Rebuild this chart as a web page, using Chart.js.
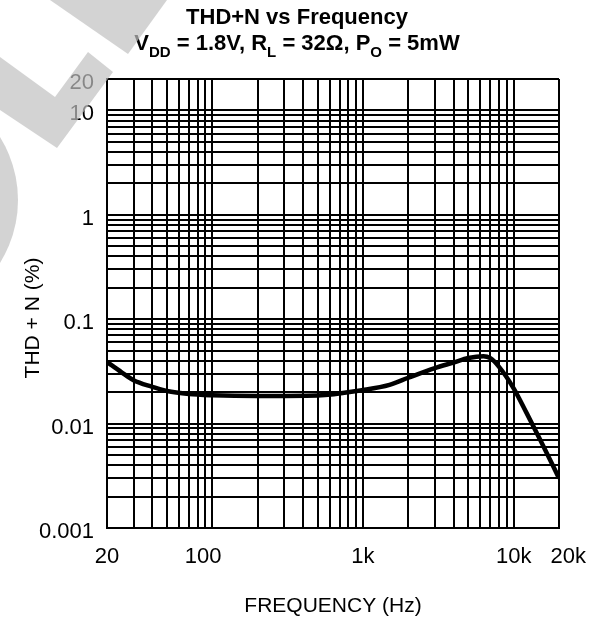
<!DOCTYPE html>
<html>
<head>
<meta charset="utf-8">
<script src="https://cdn.jsdelivr.net/npm/chart.js@4.4.1/dist/chart.umd.min.js"></script>
<style>
  html, body { margin: 0; padding: 0; background: #fff; }
  #wrap { width: 605px; height: 620px; position: relative; }
</style>
</head>
<body>
<div id="wrap"><canvas id="thdChart"></canvas></div>
<script>
// THD+N vs frequency
const freqHz = [20, 25, 30, 40, 50, 70, 100, 200, 500, 1000, 1500, 2000,
  3000, 4000, 5000, 6300, 7000, 8000, 10000, 12200, 15000, 20000];
const thdPct = [0.039, 0.031, 0.026, 0.0225, 0.0205, 0.0192, 0.0187, 0.0184, 0.0186, 0.021, 0.0235, 0.0275,
  0.034, 0.0385, 0.0425, 0.0443, 0.0423, 0.035, 0.0218, 0.0126, 0.007, 0.003];

// grid lines (one per minor step of each decade)
const xGrid = [20, 30, 40, 50, 60, 70, 80, 90,
  100, 200, 300, 400, 500, 600, 700, 800, 900,
  1000, 2000, 3000, 4000, 5000, 6000, 7000, 8000, 9000,
  10000, 20000];
const yGrid = [0.001, 0.002, 0.003, 0.004, 0.005, 0.006, 0.007, 0.008, 0.009,
  0.01, 0.02, 0.03, 0.04, 0.05, 0.06, 0.07, 0.08, 0.09,
  0.1, 0.2, 0.3, 0.4, 0.5, 0.6, 0.7, 0.8, 0.9,
  1, 2, 3, 4, 5, 6, 7, 8, 9,
  10, 20];

// labelled ticks
const xLabelValues = [20, 100, 1000, 10000, 20000];
const xLabelText = ['20', '100   ', '1k', '10k', '   20k'];
const yLabelValues = [0.001, 0.01, 0.1, 1, 10, 20];
const yLabelText = ['0.001', '0.01', '0.1', '1', '10', '20'];

const titleLine1 = 'THD+N vs Frequency';
// [text, isSubscript]
const titleLine2 = [['V', 0], ['DD', 1], [' = 1.8V, R', 0], ['L', 1], [' = 32\u03A9, P', 0], ['O', 1], [' = 5mW', 0]];
const xTitle = 'FREQUENCY (Hz)';
const yTitle = 'THD + N (%)';

const FONT = '"Liberation Sans", Arial, Helvetica, sans-serif';

function drawRich(ctx, parts, cx, y) {
  const mainFont = 'bold 22px ' + FONT;
  const subFont = 'bold 15px ' + FONT;
  let total = 0;
  const widths = parts.map(p => {
    ctx.font = p[1] ? subFont : mainFont;
    const w = ctx.measureText(p[0]).width;
    total += w;
    return w;
  });
  let x = cx - total / 2;
  parts.forEach((p, i) => {
    ctx.font = p[1] ? subFont : mainFont;
    ctx.fillText(p[0], x, p[1] ? y + 7 : y);
    x += widths[i];
  });
}

const decor = {
  id: 'decor',
  afterDraw(chart) {
    const ctx = chart.ctx;
    const area = chart.chartArea;
    ctx.save();
    ctx.fillStyle = '#000';
    ctx.textBaseline = 'alphabetic';

    // title
    ctx.textAlign = 'center';
    ctx.font = 'bold 22px ' + FONT;
    ctx.fillText(titleLine1, 297, 24);
    ctx.textAlign = 'left';
    drawRich(ctx, titleLine2, 297, 50);

    // axis titles
    ctx.textAlign = 'center';
    ctx.font = '21px ' + FONT;
    ctx.fillText(xTitle, (area.left + area.right) / 2, 612);
    ctx.translate(39, 318);
    ctx.rotate(-Math.PI / 2);
    ctx.fillText(yTitle, 0, 0);
    ctx.restore();

    // grey watermark fragments at the top-left corner
    ctx.save();
    ctx.fillStyle = 'rgba(192, 192, 192, 0.7)';
    ctx.beginPath();
    ctx.moveTo(50, 0); ctx.lineTo(167, 0); ctx.lineTo(128, 54);
    ctx.closePath();
    ctx.fill();
    ctx.beginPath();
    ctx.moveTo(0, 57); ctx.lineTo(55, 97); ctx.lineTo(88, 52); ctx.lineTo(113, 72);
    ctx.lineTo(57, 148); ctx.lineTo(0, 110);
    ctx.closePath();
    ctx.fill();
    ctx.beginPath();
    ctx.arc(-101, 200, 119, 0, Math.PI * 2);
    ctx.fill();
    ctx.restore();
  }
};

new Chart(document.getElementById('thdChart'), {
  type: 'line',
  data: {
    datasets: [{
      data: freqHz.map((f, i) => ({ x: f, y: thdPct[i] })),
      borderColor: '#000',
      borderWidth: 4.5,
      pointRadius: 0,
      cubicInterpolationMode: 'monotone',
      fill: false
    }]
  },
  options: {
    responsive: true,
    maintainAspectRatio: false,
    animation: false,
    layout: { padding: { top: 79, right: 46, left: 0, bottom: 0 } },
    plugins: {
      legend: { display: false },
      tooltip: { enabled: false }
    },
    scales: {
      x: {
        type: 'logarithmic',
        min: 20,
        max: 20000,
        afterBuildTicks(axis) { axis.ticks = xGrid.map(v => ({ value: v })); },
        afterFit(axis) { axis.height = 92; },
        ticks: {
          autoSkip: false,
          maxRotation: 0,
          minRotation: 0,
          padding: 16,
          color: '#000',
          font: { family: FONT, size: 22 },
          callback(value) {
            const i = xLabelValues.indexOf(value);
            return i < 0 ? '' : xLabelText[i];
          }
        },
        grid: { color: '#000', lineWidth: 2, drawTicks: false },
        border: { color: '#000', width: 2 }
      },
      y: {
        type: 'logarithmic',
        min: 0.001,
        max: 20,
        afterBuildTicks(axis) { axis.ticks = yGrid.map(v => ({ value: v })); },
        afterFit(axis) { axis.width = 107; },
        ticks: {
          autoSkip: false,
          padding: 13,
          labelOffset: 4,
          color: '#000',
          font: { family: FONT, size: 22 },
          callback(value) {
            const i = yLabelValues.indexOf(value);
            return i < 0 ? '' : yLabelText[i];
          }
        },
        grid: { color: '#000', lineWidth: 2, drawTicks: false },
        border: { color: '#000', width: 2 }
      }
    }
  },
  plugins: [decor]
});
</script>
</body>
</html>
